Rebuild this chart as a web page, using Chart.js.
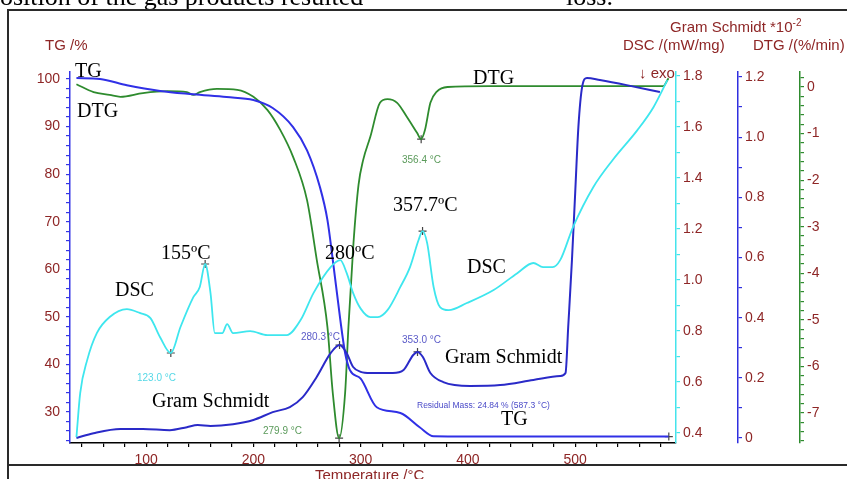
<!DOCTYPE html>
<html>
<head>
<meta charset="utf-8">
<script src="https://cdn.jsdelivr.net/npm/chart.js@4.4.1/dist/chart.umd.min.js"></script>
<style>
  html, body { margin: 0; padding: 0; background: #fff; overflow: hidden; }
  #wrap { position: relative; width: 847px; height: 479px; overflow: hidden; background: #fff; }
  #chart { position: absolute; left: 0; top: 0; }
  .lbl { position: absolute; white-space: nowrap; line-height: 1; }
  .frame { position: absolute; background: #2a2a2a; }
</style>
</head>
<body>
<div id="wrap">
  <canvas id="chart" width="847" height="479"></canvas>
</div>
<script>
// TG curve (%)
const tgTemp = [35, 57, 82, 113, 144, 175, 200, 218, 237, 250, 262, 269, 274, 281, 285.5, 290, 300, 315, 337, 355, 368, 400, 450, 500, 550, 587];
const tgVal  = [100.2, 100, 98.7, 97.5, 96.8, 96.2, 95.6, 93.9, 89.9, 85, 77.3, 70.4, 62, 49.4, 42.4, 38.8, 37, 31, 29.8, 26.8, 24.9, 24.85, 24.85, 24.84, 24.84, 24.84];

// DTG curve (%/min)
const dtgTemp = [35, 51, 66, 76, 97, 120, 138, 144, 150, 166, 185, 200, 213, 225, 237, 250, 259, 269, 274, 279.9, 285.5, 288.6, 293.3, 298, 302.3, 309, 318, 325, 334, 343, 352.7, 356.4, 360, 365, 371, 381, 420, 480, 540, 582, 587];
const dtgVal  = [0.06, -0.11, -0.17, -0.21, -0.13, -0.09, -0.11, -0.17, -0.11, -0.04, -0.06, -0.21, -0.49, -0.92, -1.5, -2.43, -3.7, -5.15, -6.57, -7.54, -6.57, -5.15, -3.35, -2.1, -1.57, -1.07, -0.34, -0.26, -0.34, -0.64, -0.99, -1.12, -0.92, -0.34, -0.1, 0, 0.02, 0.02, 0.02, 0.02, 0.19];

// DSC curve (mW/mg)
const dscTemp = [35, 38.5, 45, 54, 66, 82, 94, 104, 113, 123, 132, 144, 150, 155, 160, 164, 171, 175.5, 181, 197, 213, 231, 244, 256, 272, 281, 287, 293, 300, 309, 316, 325, 337, 346, 354, 357.7, 362, 368, 374, 382, 399, 424, 446, 461, 470, 479, 486, 498, 517, 535, 558, 573, 586];
const dscVal  = [0.384, 0.557, 0.686, 0.792, 0.855, 0.886, 0.871, 0.851, 0.776, 0.714, 0.816, 0.933, 0.973, 1.063, 0.949, 0.792, 0.792, 0.827, 0.792, 0.8, 0.784, 0.784, 0.843, 0.949, 1.051, 1.078, 1.027, 0.949, 0.888, 0.855, 0.855, 0.882, 0.973, 1.051, 1.157, 1.192, 1.145, 0.973, 0.894, 0.882, 0.91, 0.961, 1.027, 1.067, 1.051, 1.051, 1.078, 1.208, 1.365, 1.471, 1.588, 1.678, 1.784];

// Gram Schmidt curve (*10^-2)
const gsTemp = [35, 51, 76, 97, 122, 138, 148, 160, 181, 200, 218, 234, 246, 259, 272, 280.3, 287, 293, 300, 309, 330, 340, 349, 353, 358, 365, 377, 402, 430, 461, 486, 491, 493.5, 497, 500, 503, 506.5, 511, 523, 548, 579];
const gsVal  = [0.0, 0.016, 0.03, 0.03, 0.026, 0.036, 0.043, 0.04, 0.046, 0.06, 0.086, 0.103, 0.136, 0.203, 0.282, 0.309, 0.282, 0.236, 0.22, 0.216, 0.216, 0.226, 0.276, 0.286, 0.269, 0.216, 0.186, 0.173, 0.176, 0.193, 0.206, 0.216, 0.369, 0.592, 0.814, 1.034, 1.167, 1.197, 1.19, 1.173, 1.15];

// marked peaks
const dscPeakTemp = [123.0, 155, 357.7];
const dscPeakVal  = [0.714, 1.063, 1.192];
const gsPeakTemp  = [280.3, 353.0];
const gsPeakVal   = [0.309, 0.286];
const dtgPeakTemp = [279.9, 356.4];
const dtgPeakVal  = [-7.54, -1.12];
const tgEndTemp   = [587.3];
const tgEndVal    = [24.84];

// axis ticks and labels
const xTickValues   = [100, 200, 300, 400, 500];
const xTickLabels   = ['100', '200', '300', '400', '500'];
const tgTickValues  = [30, 40, 50, 60, 70, 80, 90, 100];
const tgTickLabels  = ['30', '40', '50', '60', '70', '80', '90', '100'];
const dscTickValues = [0.4, 0.6, 0.8, 1.0, 1.2, 1.4, 1.6, 1.8];
const dscTickLabels = ['0.4', '0.6', '0.8', '1.0', '1.2', '1.4', '1.6', '1.8'];
const gsTickValues  = [0, 0.2, 0.4, 0.6, 0.8, 1.0, 1.2];
const gsTickLabels  = ['0', '0.2', '0.4', '0.6', '0.8', '1.0', '1.2'];
const dtgTickValues = [0, -1, -2, -3, -4, -5, -6, -7];
const dtgTickLabels = ['0', '-1', '-2', '-3', '-4', '-5', '-6', '-7'];

const maroon = '#8e2626';
const tickFont = { family: '"Liberation Sans", Arial, sans-serif', size: 14 };

function pts(xs, ys) {
    return xs.map((t, i) => ({ x: t, y: ys[i] }));
}

// minor + major ticks, labels only on the major ones
function minorTicks(from, to, step) {
    const out = [];
    for (let v = from; v <= to + 1e-9; v += step) out.push(Math.round(v * 1000) / 1000);
    return out;
}

function labelFor(values, labels) {
    return v => {
        const i = values.findIndex(t => Math.abs(t - v) < 1e-6);
        return i >= 0 ? labels[i] : '';
    };
}

function axis(opts) {
    return {
        type: 'linear',
        position: opts.position,
        min: opts.min,
        max: opts.max,
        afterFit: s => {
            if (opts.width) s.width = opts.width;
            if (opts.height) s.height = opts.height;
        },
        afterBuildTicks: s => {
            s.ticks = opts.ticks.map(v => ({ value: v }));
        },
        border: { color: opts.color, width: opts.lineWidth || 1.5 },
        grid: { drawOnChartArea: false, tickLength: 4, color: opts.color, lineWidth: 1.2 },
        ticks: {
            color: maroon,
            font: tickFont,
            padding: opts.padding || 3,
            autoSkip: false,
            maxRotation: 0,
            callback: labelFor(opts.values, opts.labels)
        }
    };
}

function curve(data, color, axisId, width) {
    return {
        data: data,
        yAxisID: axisId,
        borderColor: color,
        borderWidth: width,
        pointRadius: 0,
        fill: false,
        cubicInterpolationMode: 'monotone'
    };
}

function marks(data, axisId) {
    return {
        data: data,
        yAxisID: axisId,
        showLine: false,
        pointStyle: 'cross',
        pointRadius: 4,
        borderColor: '#444',
        borderWidth: 1.2
    };
}

const ctx = document.getElementById('chart').getContext('2d');
new Chart(ctx, {
    type: 'line',
    data: {
        datasets: [
            curve(pts(dscTemp, dscVal), '#3ee6ee', 'yDsc', 1.8),
            curve(pts(gsTemp, gsVal), '#2a2ac8', 'yGs', 2),
            curve(pts(tgTemp, tgVal), '#3030e6', 'yTg', 2),
            curve(pts(dtgTemp, dtgVal), '#2e8b2e', 'yDtg', 1.8),
            marks(pts(dscPeakTemp, dscPeakVal), 'yDsc'),
            marks(pts(gsPeakTemp, gsPeakVal), 'yGs'),
            marks(pts(dtgPeakTemp, dtgPeakVal), 'yDtg'),
            marks(pts(tgEndTemp, tgEndVal), 'yTg')
        ]
    },
    options: {
        responsive: false,
        animation: false,
        layout: { padding: { top: 72, left: 0, right: 0, bottom: 0 } },
        plugins: { legend: { display: false }, tooltip: { enabled: false } },
        scales: {
            x: axis({ position: 'bottom', min: 29, max: 594, height: 36, color: '#000', padding: 5,
                      ticks: minorTicks(40, 580, 20), values: xTickValues, labels: xTickLabels }),
            yTg: axis({ position: 'left', min: 23.48, max: 101.47, width: 70, color: '#3535e6', padding: 6,
                        ticks: minorTicks(24, 100, 2), values: tgTickValues, labels: tgTickLabels }),
            yDsc: axis({ position: 'right', min: 0.361, max: 1.816, width: 62, color: '#44e4ec',
                         ticks: minorTicks(0.4, 1.8, 0.1), values: dscTickValues, labels: dscTickLabels }),
            yGs: axis({ position: 'right', min: -0.0166, max: 1.2166, width: 62, color: '#2f2fe0',
                        ticks: minorTicks(0, 1.2, 0.1), values: gsTickValues, labels: gsTickLabels }),
            yDtg: axis({ position: 'right', min: -7.644, max: 0.322, width: 47, color: '#2e8b2e',
                         ticks: minorTicks(-7.6, 0.2, 0.2), values: dtgTickValues, labels: dtgTickLabels })
        }
    }
});

// text on top of the chart: [html, left, baseline, size, family, color]
const SERIF = '"Liberation Serif", "Times New Roman", serif';
const SANS = '"Liberation Sans", Arial, sans-serif';
const texts = [
    ['position of the gas products resulted', -13, 6, 26, SERIF, '#000'],
    ['loss.', 566, 6, 26, SERIF, '#000'],
    ['TG /%', 45, 50, 15, SANS, maroon],
    ['Gram Schmidt *10<span style="font-size:10px;position:relative;top:-6px">-2</span>', 670, 32, 15, SANS, maroon],
    ['DSC /(mW/mg)', 623, 50, 15, SANS, maroon],
    ['DTG /(%/min)', 753, 50, 15, SANS, maroon],
    ['\u2193 exo', 639, 78, 15, SANS, maroon],
    ['Temperature /\u00b0C', 315, 480, 15, SANS, maroon],
    ['TG', 75, 77, 20, SERIF, '#000'],
    ['DTG', 77, 117, 20, SERIF, '#000'],
    ['DSC', 115, 296, 20, SERIF, '#000'],
    ['155\u00baC', 161, 259, 20, SERIF, '#000'],
    ['280\u00baC', 325, 259, 20, SERIF, '#000'],
    ['357.7\u00baC', 393, 211, 20, SERIF, '#000'],
    ['DSC', 467, 273, 20, SERIF, '#000'],
    ['DTG', 473, 84, 20, SERIF, '#000'],
    ['Gram Schmidt', 152, 407, 20, SERIF, '#000'],
    ['Gram Schmidt', 445, 363, 20, SERIF, '#000'],
    ['TG', 501, 425, 20, SERIF, '#000'],
    ['123.0 \u00b0C', 137, 381, 10, SANS, '#55d8e6'],
    ['280.3 \u00b0C', 301, 340, 10, SANS, '#5a5ac8'],
    ['279.9 \u00b0C', 263, 434, 10, SANS, '#5a9a5a'],
    ['356.4 \u00b0C', 402, 163, 10, SANS, '#5a9a5a'],
    ['353.0 \u00b0C', 402, 343, 10, SANS, '#5a5ac8'],
    ['Residual Mass: 24.84 % (587.3 \u00b0C)', 417, 408, 8.5, SANS, '#4a4ac8']
];

const wrap = document.getElementById('wrap');
texts.forEach(([html, left, base, size, family, color]) => {
    const d = document.createElement('div');
    d.className = 'lbl';
    d.innerHTML = html;
    d.style.left = left + 'px';
    d.style.top = (base - 0.85 * size) + 'px';
    d.style.fontSize = size + 'px';
    d.style.fontFamily = family;
    d.style.color = color;
    wrap.appendChild(d);
});

// page frame lines around the figure
[[7, 9, 840, 2], [7, 9, 2, 470], [7, 464, 840, 2]].forEach(([l, t, w, h]) => {
    const f = document.createElement('div');
    f.className = 'frame';
    f.style.left = l + 'px';
    f.style.top = t + 'px';
    f.style.width = w + 'px';
    f.style.height = h + 'px';
    wrap.appendChild(f);
});
</script>
</body>
</html>
